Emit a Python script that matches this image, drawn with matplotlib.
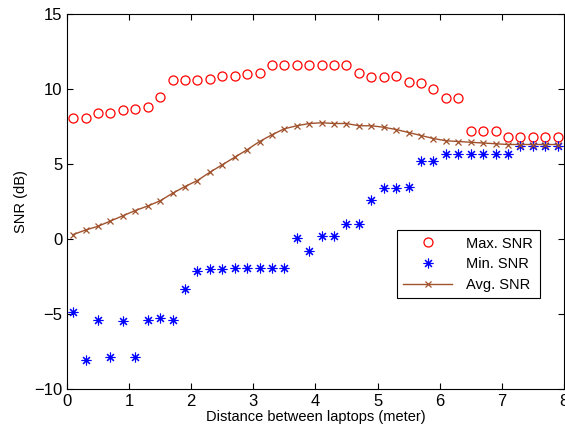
import numpy as np
import matplotlib
matplotlib.use('Agg')
import matplotlib.pyplot as plt

plt.rcParams['font.family'] = ['Liberation Sans', 'DejaVu Sans']

# distance between laptops (meter)
distance = [0.1, 0.3, 0.5, 0.7, 0.9, 1.1, 1.3, 1.5, 1.7, 1.9,
            2.1, 2.3, 2.5, 2.7, 2.9, 3.1, 3.3, 3.5, 3.7, 3.9,
            4.1, 4.3, 4.5, 4.7, 4.9, 5.1, 5.3, 5.5, 5.7, 5.9,
            6.1, 6.3, 6.5, 6.7, 6.9, 7.1, 7.3, 7.5, 7.7, 7.9]

max_snr = [8.1, 8.1, 8.4, 8.4, 8.6, 8.7, 8.8, 9.5, 10.6, 10.6,
           10.6, 10.7, 10.9, 10.9, 11.0, 11.1, 11.6, 11.6, 11.6, 11.6,
           11.6, 11.6, 11.6, 11.1, 10.8, 10.8, 10.9, 10.5, 10.4, 10.0,
           9.4, 9.4, 7.2, 7.2, 7.2, 6.8, 6.8, 6.8, 6.8, 6.8]

min_snr = [-4.9, -8.1, -5.4, -7.9, -5.5, -7.9, -5.4, -5.3, -5.4, -3.3,
           -2.1, -2.0, -2.0, -1.9, -1.9, -1.9, -1.9, -1.9, 0.1, -0.8,
           0.2, 0.2, 1.0, 1.0, 2.6, 3.4, 3.4, 3.5, 5.2, 5.2,
           5.7, 5.7, 5.7, 5.7, 5.7, 5.7, 6.2, 6.2, 6.2, 6.2]

avg_snr = [0.3, 0.6, 0.85, 1.2, 1.55, 1.9, 2.2, 2.55, 3.05, 3.5,
           3.9, 4.45, 4.95, 5.45, 5.95, 6.5, 6.95, 7.35, 7.55, 7.7,
           7.75, 7.7, 7.7, 7.55, 7.55, 7.45, 7.3, 7.1, 6.9, 6.7,
           6.55, 6.5, 6.45, 6.4, 6.35, 6.3, 6.3, 6.3, 6.3, 6.3]

fig = plt.figure(figsize=(5.65, 4.34), dpi=100)
ax = fig.add_axes([0.1186, 0.1037, 0.8794, 0.864])

ax.plot(distance, max_snr, 'o', color='red', mfc='none', ms=6.5, mew=0.9,
        label='Max. SNR')
ax.plot(distance, min_snr, linestyle='none', marker=(8, 2, 0), color='blue',
        ms=7, mew=0.8, label='Min. SNR')
ax.plot(distance, avg_snr, '-x', color='#A0522D', lw=1.0, ms=5, mew=0.9,
        label='Avg. SNR')

ax.set_xlim(0, 8)
ax.set_ylim(-10, 15)
ax.set_xticks(range(0, 9))
ax.set_yticks([-10, -5, 0, 5, 10, 15])
ax.set_yticklabels(['\u221210', '\u22125', '0', '5', '10', '15'])
ax.tick_params(direction='in', top=True, right=True, labelsize=12, length=4)
ax.set_xlabel('Distance between laptops (meter)', fontsize=10.5, labelpad=1)
ax.set_ylabel('SNR (dB)', fontsize=10.5, labelpad=4)

leg = ax.legend(loc='upper left', bbox_to_anchor=(0.664, 0.424), fontsize=10.5,
                fancybox=False, edgecolor='black', framealpha=1,
                borderaxespad=0, handlelength=3.3, labelspacing=0.45,
                borderpad=0.45, handletextpad=1.0)
leg.get_frame().set_linewidth(0.8)

fig.savefig('out.png', dpi=100)
